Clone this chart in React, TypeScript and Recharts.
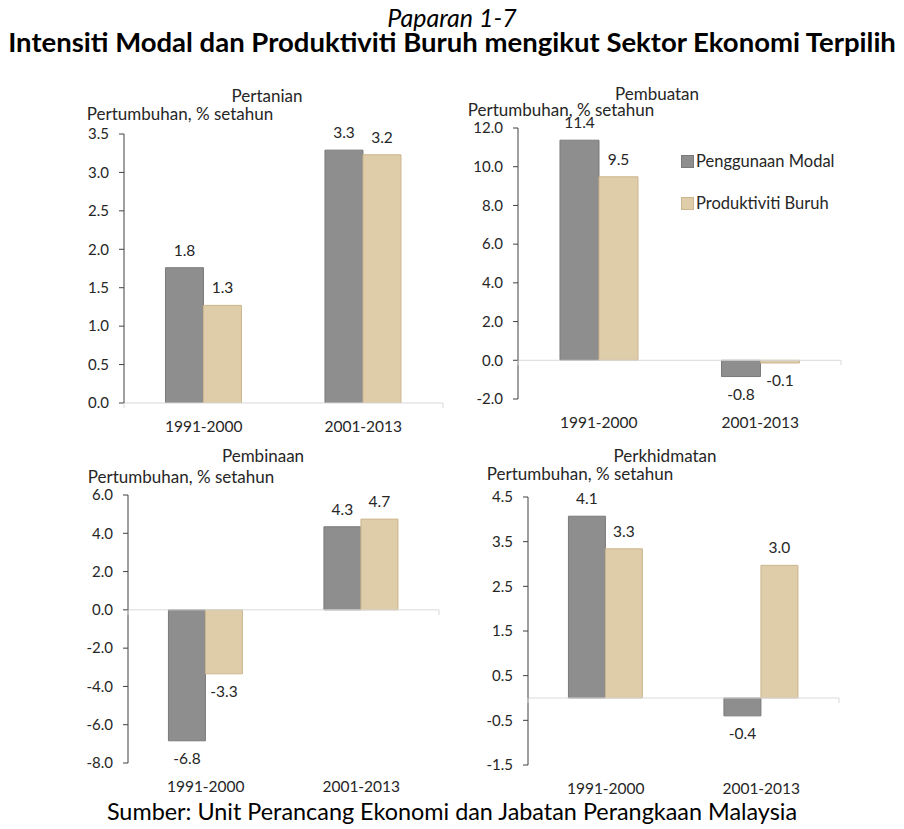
import React from "react";
import {
  BarChart,
  Bar,
  XAxis,
  YAxis,
  ReferenceLine,
  ReferenceDot,
  LabelList,
  Legend,
} from "recharts";

const categories = ["1991-2000", "2001-2013"];
const seriesNames = ["Penggunaan Modal", "Produktiviti Buruh"];

const pertanianModal = [1.76, 3.29];
const pertanianBuruh = [1.27, 3.23];
const pembuatanModal = [11.37, -0.84];
const pembuatanBuruh = [9.48, -0.14];
const pembinaanModal = [-6.84, 4.34];
const pembinaanBuruh = [-3.34, 4.74];
const perkhidmatanModal = [4.07, -0.4];
const perkhidmatanBuruh = [3.34, 2.97];

const pertanianTicks = [0, 0.5, 1, 1.5, 2, 2.5, 3, 3.5];
const pembuatanTicks = [-2, 0, 2, 4, 6, 8, 10, 12];
const pembinaanTicks = [-8, -6, -4, -2, 0, 2, 4, 6];
const perkhidmatanTicks = [-1.5, -0.5, 0.5, 1.5, 2.5, 3.5, 4.5];

const FONT = "Lato, 'Open Sans', sans-serif";
const TEXT = "#262626";
const GREY = "#8e8e8e";
const GREY_EDGE = "#7a7a7a";
const TAN = "#dfcca8";
const TAN_EDGE = "#cbb68f";

const fmt = (v: any) => Number(v).toFixed(1);

const Txt = ({ x, y, size, children, style }: any) => (
  <div
    style={{
      position: "absolute",
      left: x,
      top: y,
      transform: "translate(-50%, -50%)",
      fontSize: size,
      lineHeight: 1,
      whiteSpace: "nowrap",
      color: TEXT,
      ...style,
    }}
  >
    {children}
  </div>
);

const frameTick = (p: any) => (
  <line x1={p.cx} x2={p.cx} y1={p.cy} y2={p.cy + 5} stroke="#d9d9d9" />
);

const renderLegend = (props: any) => (
  <div>
    {(props.payload || []).map((entry: any, i: number) => (
      <div
        key={i}
        style={{
          display: "flex",
          alignItems: "center",
          height: 14,
          marginBottom: i === 0 ? 28 : 0,
        }}
      >
        <span
          style={{
            width: 13,
            height: 13,
            background: entry.color,
            border: `1px solid ${i === 0 ? GREY_EDGE : TAN_EDGE}`,
            boxSizing: "border-box",
          }}
        />
        <span style={{ marginLeft: 2, fontSize: 16.5, color: TEXT, fontFamily: FONT, whiteSpace: "nowrap" }}>
          {entry.value}
        </span>
      </div>
    ))}
  </div>
);

const Panel = ({ modal, buruh, ticks, box, legend }: any) => {
  const { left, top, plotLeft, plotTop, plotRight, plotBottom } = box;
  const data = categories.map((period, i) => ({
    period,
    modal: modal[i],
    buruh: buruh[i],
  }));
  return (
    <div style={{ position: "absolute", left, top }}>
      <BarChart
        width={plotRight - left + 10}
        height={plotBottom - top + 40}
        data={data}
        margin={{ top: plotTop - top, right: 10, bottom: 0, left: 0 }}
        barCategoryGap="26%"
        barGap={0}
      >
        <XAxis
          dataKey="period"
          axisLine={false}
          tickLine={false}
          tickSize={6}
          tickMargin={12}
          height={40}
          interval={0}
          tick={{ fill: TEXT, fontSize: 15.5, fontFamily: FONT }}
        />
        <XAxis xAxisId="frame" type="number" domain={[0, 2]} hide allowDataOverflow />
        <YAxis
          width={plotLeft - left}
          domain={[ticks[0], ticks[ticks.length - 1]]}
          ticks={ticks}
          interval={0}
          allowDataOverflow
          tickFormatter={fmt}
          axisLine={{ stroke: "#404040" }}
          tickLine={{ stroke: "#404040" }}
          tickSize={5}
          tickMargin={10}
          tick={{ fill: TEXT, fontSize: 15, fontFamily: FONT }}
        />
        <ReferenceLine y={0} stroke="#d9d9d9" />
        {[0, 1, 2].map((x) => (
          <ReferenceDot key={x} xAxisId="frame" x={x} y={0} r={0} shape={frameTick} />
        ))}
        <Bar
          dataKey="modal"
          name={seriesNames[0]}
          fill={GREY}
          stroke={GREY_EDGE}
          isAnimationActive={false}
        >
          <LabelList
            dataKey="modal"
            position="top"
            offset={12}
            formatter={fmt}
            style={{ fill: TEXT, fontSize: 15.5, fontFamily: FONT }}
          />
        </Bar>
        <Bar
          dataKey="buruh"
          name={seriesNames[1]}
          fill={TAN}
          stroke={TAN_EDGE}
          isAnimationActive={false}
        >
          <LabelList
            dataKey="buruh"
            position="top"
            offset={12}
            formatter={fmt}
            style={{ fill: TEXT, fontSize: 15.5, fontFamily: FONT }}
          />
        </Bar>
        {legend && (
          <Legend
            layout="vertical"
            align="center"
            verticalAlign="middle"
            content={renderLegend}
            wrapperStyle={{ left: legend.x - left, top: legend.y - top, width: "auto" }}
          />
        )}
      </BarChart>
    </div>
  );
};

export default function App() {
  return (
    <div
      style={{
        position: "absolute",
        left: 0,
        top: 0,
        width: 904,
        height: 829,
        background: "#fff",
        fontFamily: FONT,
        overflow: "hidden",
      }}
    >
      <Txt x={452} y={17} size={25} style={{ fontStyle: "italic", color: "#000" }}>
        Paparan 1-7
      </Txt>
      <Txt x={452} y={42} size={27.5} style={{ fontWeight: 700, color: "#000" }}>
        Intensiti Modal dan Produktiviti Buruh mengikut Sektor Ekonomi Terpilih
      </Txt>

      <Panel
        modal={pertanianModal}
        buruh={pertanianBuruh}
        ticks={pertanianTicks}
        box={{ left: 40, top: 118, plotLeft: 124, plotTop: 134, plotRight: 443, plotBottom: 403 }}
      />
      <Txt x={267} y={95} size={17}>Pertanian</Txt>
      <Txt x={180} y={113} size={17}>Pertumbuhan, % setahun</Txt>

      <Panel
        modal={pembuatanModal}
        buruh={pembuatanBuruh}
        ticks={pembuatanTicks}
        box={{ left: 450, top: 115, plotLeft: 518, plotTop: 128, plotRight: 841, plotBottom: 399 }}
        legend={{ x: 681, y: 154 }}
      />
      <Txt x={657} y={93} size={17}>Pembuatan</Txt>
      <Txt x={561} y={109} size={17}>Pertumbuhan, % setahun</Txt>

      <Panel
        modal={pembinaanModal}
        buruh={pembinaanBuruh}
        ticks={pembinaanTicks}
        box={{ left: 40, top: 480, plotLeft: 128, plotTop: 495, plotRight: 439, plotBottom: 763 }}
      />
      <Txt x={263} y={455} size={17}>Pembinaan</Txt>
      <Txt x={181} y={476} size={17}>Pertumbuhan, % setahun</Txt>

      <Panel
        modal={perkhidmatanModal}
        buruh={perkhidmatanBuruh}
        ticks={perkhidmatanTicks}
        box={{ left: 450, top: 480, plotLeft: 528, plotTop: 497, plotRight: 839, plotBottom: 765 }}
      />
      <Txt x={665} y={455} size={17}>Perkhidmatan</Txt>
      <Txt x={580} y={473} size={17}>Pertumbuhan, % setahun</Txt>

      <Txt x={452} y={812} size={23.4} style={{ color: "#000" }}>
        Sumber: Unit Perancang Ekonomi dan Jabatan Perangkaan Malaysia
      </Txt>
    </div>
  );
}
